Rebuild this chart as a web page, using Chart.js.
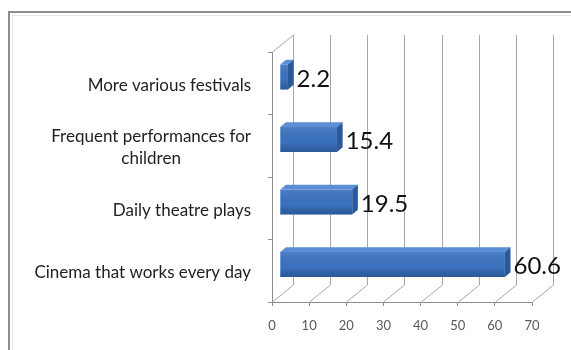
<!DOCTYPE html>
<html>
<head>
<meta charset="utf-8">
<script src="https://cdn.jsdelivr.net/npm/chart.js@4/dist/chart.umd.min.js"></script>
<style>
  html, body { margin: 0; padding: 0; background: #fff; }
</style>
</head>
<body>
<canvas id="chart" width="571" height="350"></canvas>
<script>
// top to bottom, as the bars are stacked on the page
const categories = [
  "More various festivals",
  ["Frequent performances for", "children"],
  "Daily theatre plays",
  "Cinema that works every day",
]
const values = [2.2, 15.4, 19.5, 60.6]
const xTicks = [0, 10, 20, 30, 40, 50, 60, 70]

// oblique 3D box: how far the back wall sits from the front plane
const depth = { x: 21, y: -17 }
const barFront = 0.37 // where the bar's front face sits inside the box
const barDepth = 0.27 // how deep each bar is

const lineColor = "#8c8c8c"
const gridColor = "#a6a6a6"

Chart.defaults.font.family = "Lato, 'Open Sans', sans-serif"

const boxPlugin = {
  id: "box3d",
  beforeDraw(chart) {
    const { ctx } = chart
    ctx.save()
    ctx.fillStyle = "#fff"
    ctx.fillRect(0, 0, chart.width, chart.height)
    ctx.strokeStyle = lineColor
    ctx.lineWidth = 2
    ctx.strokeRect(9, 12, chart.width, chart.height)
    ctx.strokeStyle = "#e4e4e4"
    ctx.lineWidth = 1
    ctx.strokeRect(12.5, 15.5, chart.width, chart.height)
    ctx.restore()
  },
  beforeDatasetsDraw(chart) {
    const { ctx, chartArea: a, scales: { x } } = chart
    ctx.save()
    ctx.strokeStyle = gridColor
    ctx.lineWidth = 1
    ctx.beginPath()
    xTicks.forEach((v) => {
      const px = Math.round(x.getPixelForValue(v)) + 0.5
      // back wall gridline
      ctx.moveTo(px + depth.x, a.top + depth.y)
      ctx.lineTo(px + depth.x, a.bottom + depth.y)
      // floor line running back from the axis
      ctx.moveTo(px, a.bottom)
      ctx.lineTo(px + depth.x, a.bottom + depth.y)
    })
    // top edge of the side wall
    ctx.moveTo(a.left + 0.5, a.top)
    ctx.lineTo(a.left + depth.x + 0.5, a.top + depth.y)
    ctx.stroke()
    ctx.restore()

    // push the front faces Chart.js draws back into the box
    ctx.save()
    ctx.translate(depth.x * barFront, depth.y * barFront)
  },
  afterDatasetsDraw(chart) {
    const { ctx } = chart
    ctx.restore()

    const sx = depth.x * barFront
    const sy = depth.y * barFront
    const bx = depth.x * barDepth
    const by = depth.y * barDepth

    ctx.save()
    chart.getDatasetMeta(0).data.forEach((bar, i) => {
      const { x, y, base, height } = bar.getProps(["x", "y", "base", "height"], true)
      const left = base + sx
      const right = x + sx
      const top = y - height / 2 + sy
      const bottom = y + height / 2 + sy

      // shading on the front face
      const g = ctx.createLinearGradient(0, top, 0, bottom)
      g.addColorStop(0, "rgba(255,255,255,0.10)")
      g.addColorStop(0.6, "rgba(0,0,0,0)")
      g.addColorStop(1, "rgba(0,20,60,0.28)")
      ctx.fillStyle = g
      ctx.fillRect(left, top, right - left, bottom - top)

      // top face
      ctx.fillStyle = "#5a8ed5"
      ctx.beginPath()
      ctx.moveTo(left, top)
      ctx.lineTo(left + bx, top + by)
      ctx.lineTo(right + bx, top + by)
      ctx.lineTo(right, top)
      ctx.closePath()
      ctx.fill()

      // right side
      ctx.fillStyle = "#2b5899"
      ctx.beginPath()
      ctx.moveTo(right, top)
      ctx.lineTo(right + bx, top + by)
      ctx.lineTo(right + bx, bottom + by)
      ctx.lineTo(right, bottom)
      ctx.closePath()
      ctx.fill()

      // value label
      ctx.fillStyle = "#111"
      ctx.font = "24px Lato"
      ctx.textAlign = "left"
      ctx.textBaseline = "middle"
      ctx.fillText(String(values[i]), right + bx + 3, y + sy + 2)
    })
    ctx.restore()
  },
  afterDraw(chart) {
    // category names, right aligned; wrapped names are centred on their block
    const { ctx, scales: { y } } = chart
    const rightEdge = 251
    const lineHeight = 22
    ctx.save()
    ctx.fillStyle = "#1f1f1f"
    ctx.font = "17px Lato"
    ctx.textBaseline = "middle"
    ctx.textAlign = "center"
    categories.forEach((label, i) => {
      const lines = Array.isArray(label) ? label : [label]
      const widest = Math.max(...lines.map((l) => ctx.measureText(l).width))
      const cx = rightEdge - widest / 2
      const cy = y.getPixelForValue(i) + 2
      lines.forEach((line, j) => {
        ctx.fillText(line, cx, cy + (j - (lines.length - 1) / 2) * lineHeight)
      })
    })
    ctx.restore()
  },
}

new Chart(document.getElementById("chart"), {
  type: "bar",
  data: {
    labels: categories,
    datasets: [
      {
        data: values,
        backgroundColor: "#3b72c0",
        barPercentage: 0.4,
        categoryPercentage: 1,
      },
    ],
  },
  options: {
    indexAxis: "y",
    responsive: false,
    animation: false,
    devicePixelRatio: 1,
    layout: { padding: { top: 52, right: 39, left: 0, bottom: 0 } },
    plugins: {
      legend: { display: false },
      tooltip: { enabled: false },
    },
    scales: {
      x: {
        min: 0,
        max: 70,
        afterBuildTicks: (scale) => {
          scale.ticks = xTicks.map((v) => ({ value: v }))
        },
        ticks: { color: "#595959", font: { size: 13 }, padding: 12, maxRotation: 0 },
        grid: { drawOnChartArea: false, color: lineColor, tickLength: 4 },
        border: { color: lineColor },
        afterFit: (scale) => {
          scale.height = 48
        },
      },
      y: {
        ticks: { display: false },
        grid: { drawOnChartArea: false, color: lineColor, tickLength: 4 },
        border: { color: lineColor },
        afterFit: (scale) => {
          scale.width = 272
        },
      },
    },
  },
  plugins: [boxPlugin],
})
</script>
</body>
</html>
